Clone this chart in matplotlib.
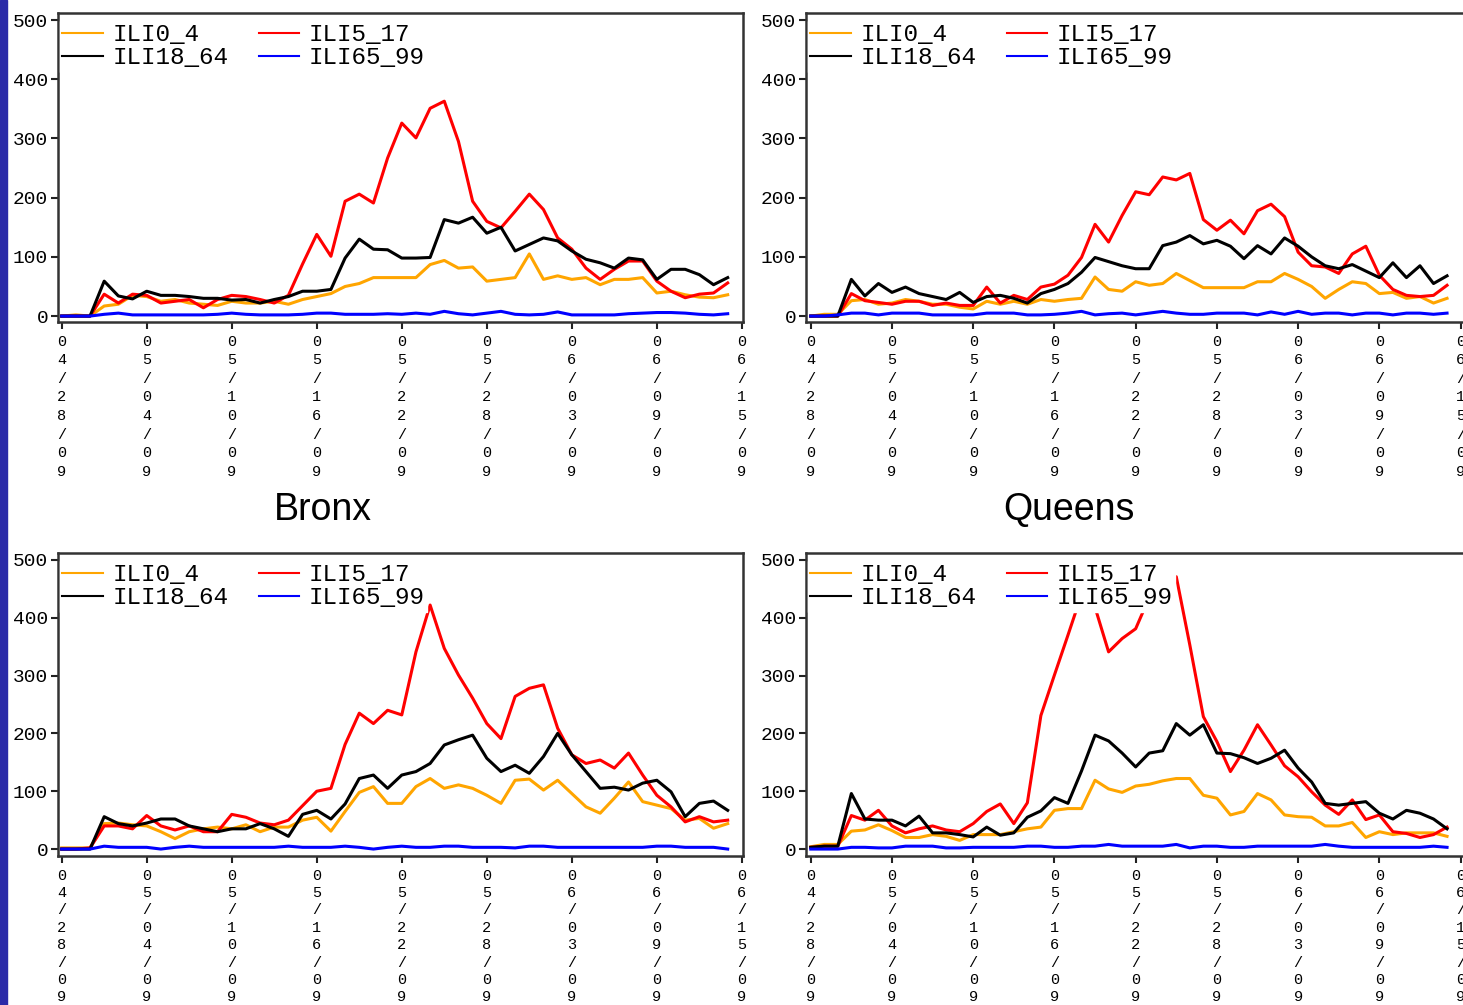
import numpy as np
import matplotlib
matplotlib.use("Agg")
import matplotlib.pyplot as plt
from matplotlib.patches import Rectangle

# days since 04/28/09
days = np.arange(48)
tick_days = [0, 6, 12, 18, 24, 30, 36, 42, 48]
tick_labels = ["04/28/09", "05/04/09", "05/10/09", "05/16/09", "05/22/09",
               "05/28/09", "06/03/09", "06/09/09", "06/15/09"]
series_names = ["ILI0_4", "ILI5_17", "ILI18_64", "ILI65_99"]
series_colors = ["#ffa500", "#ff0000", "#000000", "#0000ff"]

# Bronx (top left)
bronx_0_4 = [0, 2, 0, 17, 20, 35, 33, 25, 28, 22, 20, 18, 25, 22, 22, 25, 20, 28, 33, 38, 50, 55, 65, 65,
             65, 65, 87, 94, 81, 83, 59, 62, 65, 105, 62, 68, 62, 65, 53, 62, 62, 65, 39, 42, 36, 32, 31, 36]
bronx_5_17 = [0, 0, 0, 37, 22, 37, 35, 22, 25, 28, 14, 28, 35, 33, 28, 22, 35, 88, 138, 101, 194, 206, 191, 267,
              326, 301, 351, 363, 295, 194, 160, 149, 177, 206, 180, 132, 113, 81, 62, 79, 93, 93, 59, 42, 31, 37, 39, 56]
bronx_18_64 = [0, 0, 0, 59, 34, 29, 42, 35, 35, 33, 30, 30, 27, 28, 22, 28, 33, 42, 42, 45, 98, 130, 113, 112,
               98, 98, 99, 163, 157, 167, 140, 150, 110, 121, 132, 127, 110, 96, 90, 81, 98, 95, 62, 79, 79, 70, 53, 65]
bronx_65_99 = [0, 0, 0, 3, 5, 2, 2, 2, 2, 2, 2, 3, 5, 3, 2, 2, 2, 3, 5, 5, 3, 3, 3, 4,
               3, 5, 3, 8, 4, 2, 5, 8, 3, 2, 3, 7, 2, 2, 2, 2, 4, 5, 6, 6, 5, 3, 2, 4]

# Queens (top right)
queens_0_4 = [0, 3, 3, 26, 28, 20, 22, 28, 25, 20, 20, 15, 12, 25, 20, 25, 20, 28, 25, 28, 30, 66, 45, 42,
              58, 52, 55, 72, 60, 48, 48, 48, 48, 58, 58, 72, 62, 50, 30, 45, 58, 55, 38, 40, 30, 33, 22, 30]
queens_5_17 = [0, 0, 0, 38, 26, 23, 20, 25, 25, 18, 22, 18, 18, 49, 22, 35, 28, 49, 54, 69, 99, 155, 125, 170,
               210, 205, 235, 230, 241, 163, 145, 162, 139, 178, 189, 168, 108, 85, 83, 72, 105, 118, 69, 45, 35, 33, 35, 52]
queens_18_64 = [0, 0, 0, 62, 34, 55, 40, 49, 38, 33, 28, 40, 23, 33, 35, 30, 22, 38, 45, 55, 74, 99, 92, 85,
                80, 80, 119, 125, 136, 122, 128, 118, 97, 119, 105, 132, 118, 100, 85, 80, 87, 76, 65, 90, 65, 85, 55, 68]
queens_65_99 = [0, 0, 2, 5, 5, 2, 5, 5, 5, 2, 2, 2, 2, 5, 5, 5, 2, 2, 3, 5, 8, 2, 4, 5,
                2, 5, 8, 5, 3, 3, 5, 5, 5, 2, 7, 3, 8, 3, 5, 5, 2, 5, 5, 2, 5, 5, 3, 5]

# bottom left
bl_0_4 = [2, 2, 2, 44, 45, 42, 40, 30, 18, 30, 35, 38, 35, 42, 30, 38, 38, 50, 55, 31, 65, 98, 108, 79,
          79, 108, 122, 105, 111, 105, 93, 79, 119, 121, 102, 119, 96, 73, 62, 88, 116, 82, 76, 70, 50, 53, 36, 44]
bl_5_17 = [0, 0, 2, 40, 40, 35, 58, 40, 33, 40, 30, 30, 60, 55, 45, 42, 50, 75, 100, 105, 181, 235, 217, 240,
           232, 341, 422, 347, 301, 261, 217, 191, 264, 278, 284, 209, 163, 148, 154, 140, 166, 128, 93, 73, 47, 56, 47, 50]
bl_18_64 = [0, 0, 0, 56, 44, 40, 45, 52, 52, 40, 35, 30, 35, 35, 44, 35, 22, 60, 67, 52, 78, 122, 128, 105,
            128, 134, 148, 180, 189, 197, 157, 134, 145, 131, 160, 200, 163, 134, 105, 107, 102, 114, 119, 99, 56, 79, 83, 67]
bl_65_99 = [0, 0, 0, 5, 3, 3, 3, 0, 3, 5, 3, 3, 3, 3, 3, 3, 5, 3, 3, 3, 5, 3, 0, 3,
            5, 3, 3, 5, 5, 3, 3, 3, 2, 5, 5, 3, 3, 3, 3, 3, 3, 3, 5, 5, 3, 3, 3, 0]

# bottom right
br_0_4 = [4, 8, 8, 31, 33, 42, 32, 20, 20, 25, 22, 15, 25, 25, 25, 30, 35, 38, 67, 70, 70, 119, 104, 98,
          109, 112, 118, 122, 122, 93, 88, 59, 65, 96, 85, 59, 56, 55, 40, 40, 46, 20, 30, 25, 28, 28, 28, 22]
br_5_17 = [3, 5, 5, 58, 50, 67, 40, 28, 35, 40, 33, 30, 44, 65, 78, 44, 80, 231, 301, 370, 440, 418, 341, 364,
           381, 435, 452, 471, 353, 229, 186, 134, 171, 215, 180, 144, 125, 99, 76, 60, 85, 51, 59, 30, 27, 20, 25, 38]
br_18_64 = [3, 5, 5, 96, 52, 50, 50, 40, 57, 28, 28, 25, 21, 38, 24, 28, 55, 66, 89, 79, 135, 197, 187, 166,
            142, 166, 170, 217, 197, 215, 166, 165, 158, 148, 157, 171, 140, 116, 79, 76, 79, 82, 62, 52, 67, 62, 52, 35]
br_65_99 = [0, 0, 0, 3, 3, 2, 2, 5, 5, 5, 2, 2, 3, 3, 3, 3, 5, 5, 3, 3, 5, 5, 8, 5,
            5, 5, 5, 8, 2, 5, 5, 3, 3, 5, 5, 5, 5, 5, 8, 5, 3, 3, 3, 3, 3, 3, 5, 3]

panels = [
    ([bronx_0_4, bronx_5_17, bronx_18_64, bronx_65_99], [58, 13, 743, 322], (-0.26, 48.08), (-10, 512), 1.42),
    ([queens_0_4, queens_5_17, queens_18_64, queens_65_99], [806, 13, 1466, 322], (-0.35, 48.4), (-10, 512), 1.42),
    ([bl_0_4, bl_5_17, bl_18_64, bl_65_99], [58, 553, 743, 856], (-0.26, 48.08), (-12, 512), 1.31),
    ([br_0_4, br_5_17, br_18_64, br_65_99], [806, 553, 1466, 856], (-0.35, 48.4), (-12, 512), 1.31),
]

W, H = 1463, 1005
fig = plt.figure(figsize=(W / 100, H / 100), dpi=100)
fig.patch.set_facecolor("white")

mono = "Liberation Mono"
stacked = ["\n".join(lab) for lab in tick_labels]

for data, box, xl, yl, lsp in panels:
    x0, y0, x1, y1 = box
    aw, ah = x1 - x0, y1 - y0
    ax = fig.add_axes([x0 / W, 1 - y1 / H, aw / W, ah / H])
    for vals, name, col in zip(data, series_names, series_colors):
        ax.plot(days, vals, color=col, lw=2.2, label=name)
    ax.set_xlim(*xl)
    ax.set_ylim(*yl)
    ax.set_yticks([0, 100, 200, 300, 400, 500])
    ax.set_yticklabels(["0", "100", "200", "300", "400", "500"], family=mono, fontsize=14)
    ax.set_xticks(tick_days)
    ax.set_xticklabels(stacked, family=mono, fontsize=11, linespacing=lsp, va="top")
    ax.tick_params(direction="out", length=5, width=1.5, color="#222222", pad=2)
    ax.tick_params(axis="x", pad=4)
    for s in ax.spines.values():
        s.set_linewidth(1.8)
        s.set_color("#333333")

    h, l = ax.get_legend_handles_labels()
    order = [0, 2, 1, 3]
    leg = ax.legend([h[i] for i in order], [l[i] for i in order], ncol=2, loc="upper left",
                    bbox_to_anchor=(2 / aw, 1 - 8 / ah),
                    frameon=True, framealpha=1, edgecolor="white", fancybox=False,
                    prop={"family": mono, "size": 17.5}, handlelength=1.65, handletextpad=0.4,
                    columnspacing=1.25, labelspacing=0.0, borderpad=0.1, borderaxespad=0)
    for ln in leg.get_lines():
        ln.set_linewidth(1.5)

fig.text(323 / W, 1 - 510 / H, "Bronx", ha="center", va="center",
         family="Liberation Sans", fontsize=27)
fig.text(1069 / W, 1 - 510 / H, "Queens", ha="center", va="center",
         family="Liberation Sans", fontsize=27)

fig.patches.append(Rectangle((0, 0), 7 / W, 1, transform=fig.transFigure,
                             color="#2b2ba8", zorder=10))

fig.savefig("out.png", dpi=100)
